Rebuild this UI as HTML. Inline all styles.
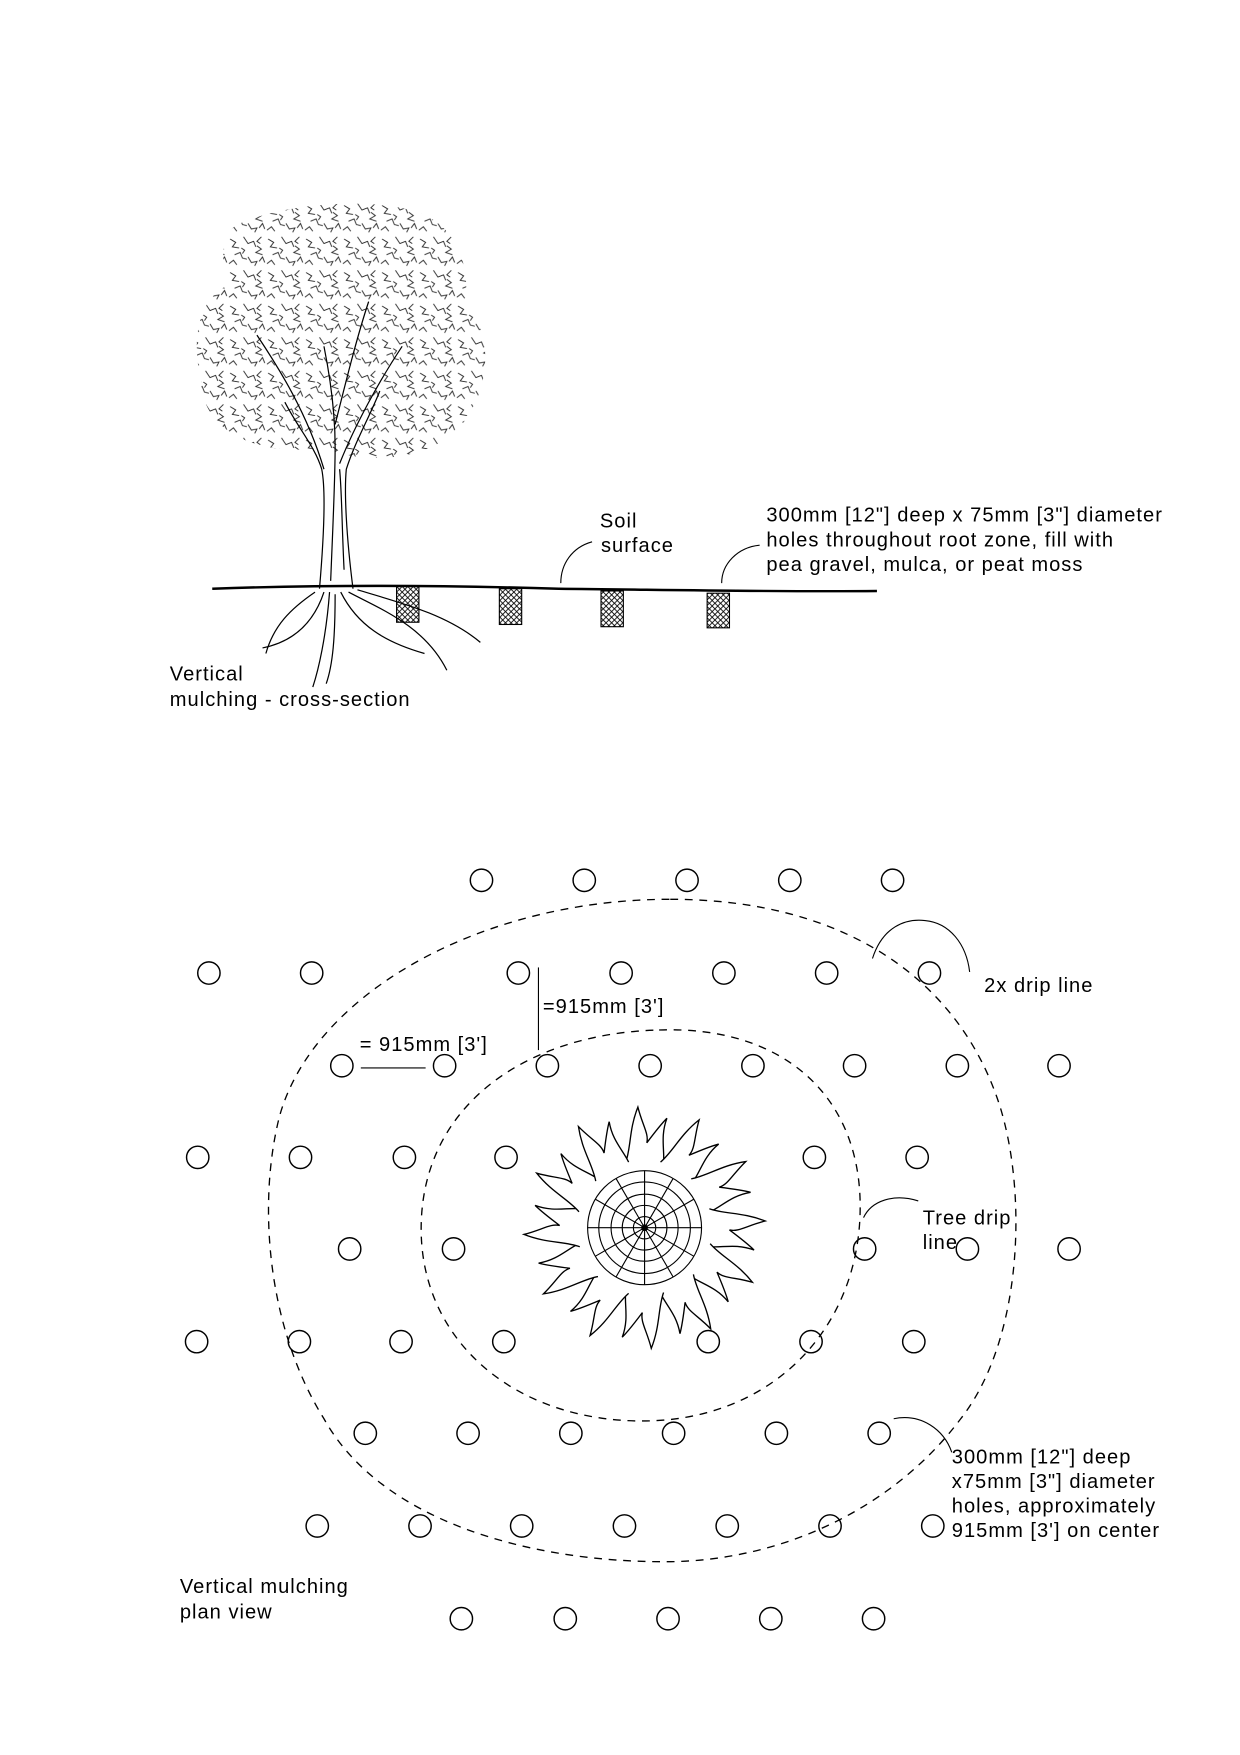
<!DOCTYPE html>
<html><head><meta charset="utf-8"><style>
html,body{margin:0;padding:0;background:#fff}
svg{display:block}
text{font-family:"Liberation Sans",Arial,sans-serif;font-size:18px;letter-spacing:0.9px;fill:#000}
</style></head><body>
<svg width="1240" height="1755" viewBox="0 0 1110 1571" xmlns="http://www.w3.org/2000/svg">
<defs>
<pattern id="hatch" width="5" height="5" patternUnits="userSpaceOnUse">
<path d="M0,0L5,5M5,0L0,5" stroke="#000" stroke-width="0.8"/>
</pattern>
<pattern id="leaf" width="34" height="30" patternUnits="userSpaceOnUse">
<path d="M2,4l5,3l-3,4l6,1M14,2l4,6l5,-2l2,5M26,10l4,3l-5,3l6,2M6,18l5,-2l2,5l4,1M18,20l3,5l5,-1l-2,4M1,26l4,-3l3,4M28,24l3,-4l2,5M12,12l3,2l-2,3M30,2l-4,4l3,2" stroke="#222" stroke-width="0.8" fill="none"/>
</pattern>
<path id="spike" d="M-17,-58 C-12,-72 -14,-88 -6,-108 C-2,-92 4,-84 2,-76 C8,-84 14,-92 20,-98 C14,-82 18,-70 17,-58" fill="#fff" stroke="#000" stroke-width="1.2"/>
</defs>

<!-- Tree canopy -->
<path d="M215,200 C260,180 350,175 385,195 C420,215 420,260 415,275 C440,290 440,340 420,370 C400,410 330,420 290,400 C240,410 180,390 180,340 C170,300 180,265 205,255 C195,230 200,205 215,200Z" fill="url(#leaf)" stroke="none"/>
<!-- trunk -->
<g stroke="#000" stroke-width="1.1" fill="none">
<path d="M286,527 C290,480 292,440 288,420 C282,400 268,385 255,360"/>
<path d="M316,527 C310,480 308,440 310,420 C318,395 330,375 340,350"/>
<path d="M296,520 C298,470 300,430 300,400 C300,370 296,340 290,310"/>
<path d="M304,415 C318,380 340,340 360,310"/>
<path d="M290,420 C275,370 250,330 230,300"/>
<path d="M300,380 C310,340 320,300 330,270"/>
<path d="M308,510 C306,470 306,440 304,420"/>
<!-- roots -->
<path d="M290,530 C280,560 260,575 235,580"/>
<path d="M295,530 C292,570 285,600 280,615"/>
<path d="M305,530 C320,560 345,575 380,585"/>
<path d="M312,530 C340,545 380,560 400,600"/>
<path d="M320,528 C360,540 400,550 430,575"/>
<path d="M282,530 C260,545 245,560 238,585"/>
<path d="M300,532 C300,570 298,595 292,612"/>
</g>
<!-- ground line -->
<path d="M190,527 C300,523 400,524 500,527 C600,528 700,530 785,529" stroke="#000" stroke-width="2.2" fill="none"/>
<!-- holes -->
<g fill="url(#hatch)" stroke="#000" stroke-width="1">
<rect x="355" y="525" width="20" height="32"/>
<rect x="447" y="527" width="20" height="32"/>
<rect x="538" y="529" width="20" height="32"/>
<rect x="633" y="531" width="20" height="31"/>
</g>
<g stroke="#000" stroke-width="1" fill="none">
<path d="M502,522 C502,505 512,490 530,485"/>
<path d="M646,522 C646,505 660,490 680,488"/>
</g>
<text x="537" y="472">Soil</text>
<text x="538" y="494">surface</text>
<text x="686" y="467">300mm [12"] deep x 75mm [3"] diameter</text>
<text x="686" y="489">holes throughout root zone, fill with</text>
<text x="686" y="511">pea gravel, mulca, or peat moss</text>
<text x="152" y="609">Vertical</text>
<text x="152" y="632">mulching - cross-section</text>

<!-- plan view: dashed ellipses -->
<g stroke="#000" stroke-width="1.2" fill="none" stroke-dasharray="7 6">
<path d="M600,805 C760,805 860,880 895,990 C920,1070 915,1200 860,1270 C800,1350 700,1398 595,1398 C470,1398 340,1360 290,1270 C240,1190 230,1080 250,1000 C280,890 430,805 600,805Z"/>
<path d="M590,922 C700,918 770,980 770,1080 C770,1190 690,1272 575,1272 C460,1272 377,1200 377,1100 C377,990 470,925 590,922Z"/>
</g>
<!-- circles -->
<g stroke="#000" stroke-width="1.3" fill="none">
<circle cx="431" cy="788" r="10"/><circle cx="523" cy="788" r="10"/><circle cx="615" cy="788" r="10"/><circle cx="707" cy="788" r="10"/><circle cx="799" cy="788" r="10"/>
<circle cx="187" cy="871" r="10"/><circle cx="279" cy="871" r="10"/><circle cx="464" cy="871" r="10"/><circle cx="556" cy="871" r="10"/><circle cx="648" cy="871" r="10"/><circle cx="740" cy="871" r="10"/><circle cx="832" cy="871" r="10"/>
<circle cx="306" cy="954" r="10"/><circle cx="398" cy="954" r="10"/><circle cx="490" cy="954" r="10"/><circle cx="582" cy="954" r="10"/><circle cx="674" cy="954" r="10"/><circle cx="765" cy="954" r="10"/><circle cx="857" cy="954" r="10"/><circle cx="948" cy="954" r="10"/>
<circle cx="177" cy="1036" r="10"/><circle cx="269" cy="1036" r="10"/><circle cx="362" cy="1036" r="10"/><circle cx="453" cy="1036" r="10"/><circle cx="729" cy="1036" r="10"/><circle cx="821" cy="1036" r="10"/>
<circle cx="313" cy="1118" r="10"/><circle cx="406" cy="1118" r="10"/><circle cx="774" cy="1118" r="10"/><circle cx="866" cy="1118" r="10"/><circle cx="957" cy="1118" r="10"/>
<circle cx="176" cy="1201" r="10"/><circle cx="268" cy="1201" r="10"/><circle cx="359" cy="1201" r="10"/><circle cx="451" cy="1201" r="10"/><circle cx="634" cy="1201" r="10"/><circle cx="726" cy="1201" r="10"/><circle cx="818" cy="1201" r="10"/>
<circle cx="327" cy="1283" r="10"/><circle cx="419" cy="1283" r="10"/><circle cx="511" cy="1283" r="10"/><circle cx="603" cy="1283" r="10"/><circle cx="695" cy="1283" r="10"/><circle cx="787" cy="1283" r="10"/>
<circle cx="284" cy="1366" r="10"/><circle cx="376" cy="1366" r="10"/><circle cx="467" cy="1366" r="10"/><circle cx="559" cy="1366" r="10"/><circle cx="651" cy="1366" r="10"/><circle cx="743" cy="1366" r="10"/><circle cx="835" cy="1366" r="10"/>
<circle cx="413" cy="1449" r="10"/><circle cx="506" cy="1449" r="10"/><circle cx="598" cy="1449" r="10"/><circle cx="690" cy="1449" r="10"/><circle cx="782" cy="1449" r="10"/>
</g>
<!-- tree symbol -->
<g transform="translate(577,1099)">
<use href="#spike" transform="rotate(0)"/><use href="#spike" transform="rotate(30)"/><use href="#spike" transform="rotate(60)"/><use href="#spike" transform="rotate(90)"/><use href="#spike" transform="rotate(120)"/><use href="#spike" transform="rotate(150)"/><use href="#spike" transform="rotate(180)"/><use href="#spike" transform="rotate(210)"/><use href="#spike" transform="rotate(240)"/><use href="#spike" transform="rotate(270)"/><use href="#spike" transform="rotate(300)"/><use href="#spike" transform="rotate(330)"/>
<circle r="60" fill="#fff" stroke="none"/>
<g stroke="#000" stroke-width="1" fill="none">
<circle r="51"/><circle r="41"/><circle r="30"/><circle r="20"/><circle r="10"/>
<path d="M-51,0H51M0,-51V51M-44,-25.5L44,25.5M-44,25.5L44,-25.5M-25.5,-44L25.5,44M-25.5,44L25.5,-44"/>
</g>
<circle r="3" fill="#000"/>
</g>
<!-- leaders -->
<g stroke="#000" stroke-width="1" fill="none">
<path d="M781,858 C790,830 810,822 828,824 C850,826 865,845 868,870"/>
<path d="M482,866V940"/>
<path d="M323,956H381"/>
<path d="M773,1090 C780,1075 800,1068 822,1075"/>
<path d="M800,1270 C825,1265 845,1280 852,1300"/>
</g>
<text x="881" y="888">2x drip line</text>
<text x="486" y="907">=915mm [3']</text>
<text x="322" y="941">= 915mm [3']</text>
<text x="826" y="1096">Tree drip</text>
<text x="826" y="1118">line</text>
<text x="852" y="1310">300mm [12"] deep</text>
<text x="852" y="1332">x75mm [3"] diameter</text>
<text x="852" y="1354">holes, approximately</text>
<text x="852" y="1376">915mm [3'] on center</text>
<text x="161" y="1426">Vertical mulching</text>
<text x="161" y="1449">plan view</text>
</svg>
</body></html>
